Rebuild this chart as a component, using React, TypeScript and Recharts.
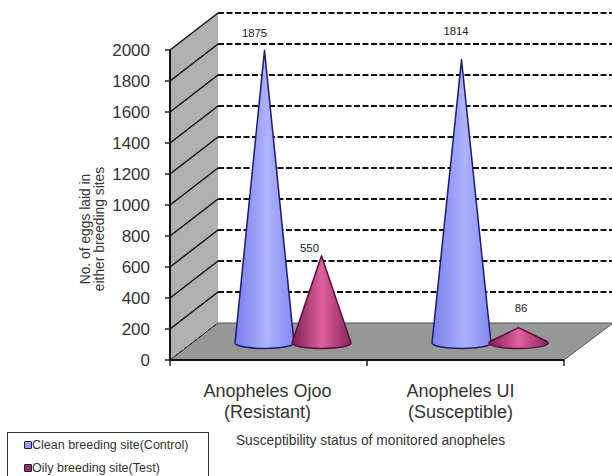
import React from 'react';
import {
  BarChart,
  Bar,
  XAxis,
  YAxis,
  Legend,
  LabelList,
  ReferenceArea,
  ReferenceLine,
} from 'recharts';

const categories = ['Anopheles Ojoo', 'Anopheles UI'];
const subCategories = ['(Resistant)', '(Susceptible)'];
const cleanSite = [1875, 1814];
const oilySite = [550, 86];
const yTicks = [0, 200, 400, 600, 800, 1000, 1200, 1400, 1600, 1800, 2000];

const data = categories.map((name, i) => ({
  name,
  sub: subCategories[i],
  clean: cleanSite[i],
  oily: oilySite[i],
}));

// 3d look: how far the back wall sits from the front axes
const DEPTH_X = 48;
const DEPTH_Y = 37;
const FONT = '"Liberation Sans", Arial, sans-serif';

// data labels were hand-moved in the original, so nudge them per point
const cleanLabelNudge = [
  { dx: -10, dy: -14 },
  { dx: -5.5, dy: -25 },
];
const oilyLabelNudge = [
  { dx: -12, dy: -4 },
  { dx: 2.5, dy: -16 },
];
const categoryNudge = [-1, -5];

const Cone = (props: any) => {
  const { x, y, width, height, fillId, stroke } = props;
  const cx = x + width / 2 + DEPTH_X / 2;
  const cy = y + height - DEPTH_Y / 2 + 1.5;
  const tipY = cy - height - 2;
  const rx = width / 2 + 1;
  const ry = 5.5;
  const h = cy - tipY;
  const ty = (ry * ry) / h;
  const tx = rx * Math.sqrt(1 - (ry * ry) / (h * h));
  return (
    <path
      d={`M${cx - tx},${cy - ty} L${cx},${tipY} L${cx + tx},${cy - ty} A${rx},${ry} 0 1 1 ${cx - tx},${cy - ty} Z`}
      fill={`url(#${fillId})`}
      stroke={stroke}
      strokeWidth={1.5}
      strokeLinejoin="round"
    />
  );
};

// side wall, back wall, floor and the tick marks under the floor
const Room = (props: any) => {
  const { x, y, width, height } = props;
  const bottom = y + height;
  const right = x + width;
  const step = width / categories.length;
  return (
    <g>
      <polygon
        points={`${x + DEPTH_X},${y - DEPTH_Y} 612,${y - DEPTH_Y} 612,${bottom - DEPTH_Y} ${x + DEPTH_X},${bottom - DEPTH_Y}`}
        fill="#ffffff"
      />
      <polygon
        points={`${x},${y} ${x + DEPTH_X},${y - DEPTH_Y} ${x + DEPTH_X},${bottom - DEPTH_Y} ${x},${bottom}`}
        fill="#b0b0b0"
      />
      <polygon
        points={`${x},${bottom} ${x + DEPTH_X},${bottom - DEPTH_Y} ${right + DEPTH_X + 1},${bottom - DEPTH_Y} ${right},${bottom}`}
        fill="#979797"
        stroke="#555555"
        strokeWidth={1}
      />
      {[0, 1, 2].map((i) => (
        <line
          key={i}
          x1={x + step * i}
          x2={x + step * i}
          y1={bottom}
          y2={bottom + 6}
          stroke="#222222"
          strokeWidth={1.5}
        />
      ))}
    </g>
  );
};

const GridRung = (props: any) => {
  const { x1, y1 } = props;
  const isFloor = props.isFloor;
  const common = { stroke: '#111111', strokeWidth: 2 };
  return (
    <g>
      <line
        x1={x1}
        y1={y1}
        x2={x1 + DEPTH_X}
        y2={y1 - DEPTH_Y}
        {...common}
        strokeWidth={isFloor ? 1 : 1.5}
        strokeDasharray={isFloor ? '4 2' : undefined}
      />
      {!isFloor && (
        <line
          x1={x1 + DEPTH_X}
          y1={y1 - DEPTH_Y}
          x2={612}
          y2={y1 - DEPTH_Y}
          {...common}
          strokeDasharray="6 2.5"
        />
      )}
    </g>
  );
};

const ConeLabel = (nudges: { dx: number; dy: number }[]) => (props: any) => {
  const { x, y, width, value, index } = props;
  const n = nudges[index];
  return (
    <text
      x={x + width / 2 + DEPTH_X / 2 + n.dx}
      y={y - DEPTH_Y / 2 + n.dy}
      textAnchor="middle"
      fontFamily={FONT}
      fontSize={11.3}
      fill="#222222"
    >
      {value}
    </text>
  );
};

const CategoryTick = (props: any) => {
  const { x, payload, index } = props;
  const tx = x + categoryNudge[index];
  return (
    <text x={tx} textAnchor="middle" fontFamily={FONT} fontSize={18} fill="#333333">
      <tspan x={tx} y={397}>{payload.value}</tspan>
      <tspan x={tx} y={418}>{subCategories[index]}</tspan>
    </text>
  );
};

const YTitle = () => (
  <text transform="translate(90,229) rotate(-90)" textAnchor="middle" fontFamily={FONT} fontSize={13.8} fill="#333333">
    <tspan x={0} y={0}>No. of eggs laid in</tspan>
    <tspan x={0} y={14}>either breeding sites</tspan>
  </text>
);

const LegendBox = (props: any) => (
  <div
    style={{
      width: 202,
      height: 60,
      boxSizing: 'border-box',
      border: '1px solid #333333',
      fontFamily: FONT,
      fontSize: 12.5,
      color: '#333333',
      paddingLeft: 16,
    }}
  >
    {(props.payload || []).map((entry: any) => (
      <div key={entry.value} style={{ display: 'flex', alignItems: 'center', height: 23 }}>
        <span
          style={{
            width: 6,
            height: 6,
            background: entry.color,
            border: '1.5px solid #1a1a40',
            borderRadius: 1,
          }}
        />
        {entry.value}
      </div>
    ))}
  </div>
);

export default function App() {
  return (
    <div style={{ position: 'absolute', left: 0, top: 0, width: 612, height: 476, background: '#fff', overflow: 'hidden' }}>
      <BarChart
        width={612}
        height={476}
        data={data}
        barSize={57}
        barGap={0}
        margin={{ top: 50, right: 48, bottom: 76, left: 110 }}
      >
        <defs>
          <linearGradient id="coneBlue" x1="0" x2="1" y1="0" y2="0">
            <stop offset="0%" stopColor="#7a7eea" />
            <stop offset="55%" stopColor="#aeb2ff" />
            <stop offset="100%" stopColor="#8589f2" />
          </linearGradient>
          <linearGradient id="coneMaroon" x1="0" x2="1" y1="0" y2="0">
            <stop offset="0%" stopColor="#7d1f55" />
            <stop offset="50%" stopColor="#e0609c" />
            <stop offset="100%" stopColor="#8a2660" />
          </linearGradient>
        </defs>
        <ReferenceArea y1={0} y2={2000} shape={Room} zIndex={-10} />
        {yTicks.map((t) => (
          <ReferenceLine
            key={t}
            y={t}
            zIndex={-5}
            shape={(p: any) => <GridRung {...p} isFloor={t === 0} />}
          />
        ))}
        <XAxis
          dataKey="name"
          height={40}
          interval={0}
          axisLine={{ stroke: '#111111', strokeWidth: 2 }}
          tickLine={false}
          tick={CategoryTick}
        />
        <YAxis
          width={60}
          domain={[0, 2000]}
          ticks={yTicks}
          interval={0}
          axisLine={{ stroke: '#111111', strokeWidth: 2 }}
          tickLine={{ stroke: '#222222', strokeWidth: 1.5 }}
          tickSize={5}
          tickMargin={15}
          tick={{ fill: '#333333', fontSize: 17, fontFamily: FONT }}
          label={{ content: YTitle }}
        />
        <Legend
          layout="horizontal"
          align="center"
          verticalAlign="middle"
          content={LegendBox}
          wrapperStyle={{ position: 'absolute', left: 7, top: 432, width: 202, height: 60 }}
        />
        <Bar
          dataKey="clean"
          name="Clean breeding site(Control)"
          fill="#9999ff"
          isAnimationActive={false}
          shape={(p: any) => <Cone {...p} fillId="coneBlue" stroke="#1c1c70" />}
        >
          <LabelList dataKey="clean" content={ConeLabel(cleanLabelNudge)} />
        </Bar>
        <Bar
          dataKey="oily"
          name="Oily breeding site(Test)"
          fill="#993366"
          isAnimationActive={false}
          shape={(p: any) => <Cone {...p} fillId="coneMaroon" stroke="#5a0f3c" />}
        >
          <LabelList dataKey="oily" content={ConeLabel(oilyLabelNudge)} />
        </Bar>
        <text x={370.5} y={445} textAnchor="middle" fontFamily={FONT} fontSize={13.8} fill="#333333">
          Susceptibility status of monitored anopheles
        </text>
      </BarChart>
    </div>
  );
}
